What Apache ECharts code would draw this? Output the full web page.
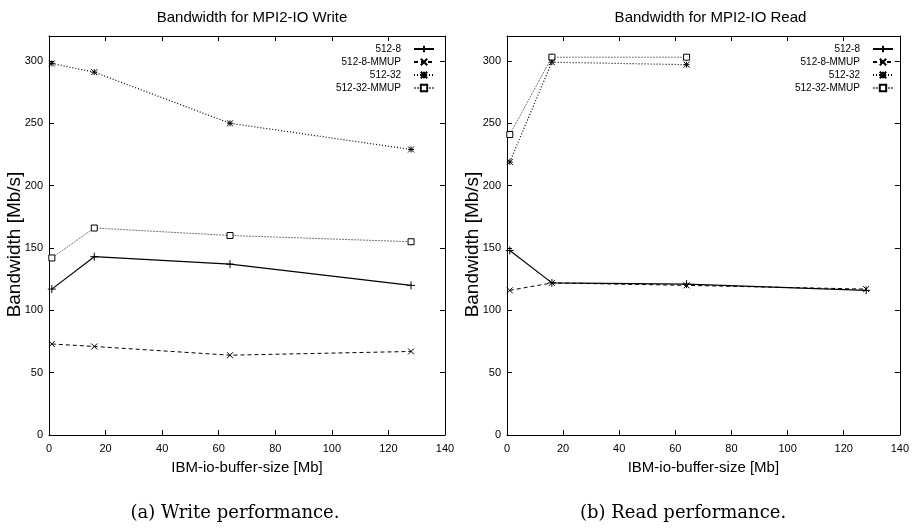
<!DOCTYPE html>
<html>
<head>
<meta charset="utf-8">
<script src="https://cdn.jsdelivr.net/npm/echarts@6/dist/echarts.min.js"></script>
<style>html,body{margin:0;padding:0;background:#fff}#c{width:912px;height:529px}</style>
</head>
<body>
<div id="c"></div>
<script>
// ---- data ----
var seriesNames = ['512-8', '512-8-MMUP', '512-32', '512-32-MMUP'];
var bufferSizes = [1, 16, 64, 128];
var write_512_8 = [117, 143, 137, 120];
var write_512_8_MMUP = [73, 71, 64, 67];
var write_512_32 = [298, 291, 250, 229];
var write_512_32_MMUP = [142, 166, 160, 155];
var read_512_8 = [148, 122, 121, 116];
var read_512_8_MMUP = [116, 122, 120, 117];
var read_512_32 = [219, 299, 297];
var read_512_32_MMUP = [241, 303, 303];
var titles = ['Bandwidth for MPI2-IO Write', 'Bandwidth for MPI2-IO Read'];
var captions = ['(a) Write performance.', '(b) Read performance.'];
var xName = 'IBM-io-buffer-size [Mb]';
var yName = 'Bandwidth [Mb/s]';

// ---- styling ----
var NARROW = '"Liberation Sans Narrow", "Liberation Sans", Arial, sans-serif';
var SANS = '"Liberation Sans", Arial, sans-serif';
var styles = [
  {symbol: 'path://M0,5L10,5M5,0L5,10', size: 8, color: '#000', type: 'solid', width: 1.2, fill: '#000'},
  {symbol: 'path://M0,0L10,10M10,0L0,10', size: 6, color: '#000', type: [4, 3], width: 1, fill: '#000'},
  {symbol: 'path://M0,0L10,10M10,0L0,10M5,0L5,10M0,5L10,5', size: 6, color: '#000', type: [1, 2], width: 1.2, fill: '#000'},
  {symbol: 'rect', size: 6, color: '#777', type: [2, 1], width: 1, fill: '#fff', border: '#000'}
];

function pairs(xs, vals) { return vals.map(function (v, i) { return [xs[i], v]; }); }

var grids = [
  {left: 49, top: 36, width: 396, height: 399},
  {left: 507, top: 36, width: 397, height: 399}
];

var xAxes = [], yAxes = [];
grids.forEach(function (g, gi) {
  ['bottom', 'top'].forEach(function (pos) {
    xAxes.push({
      type: 'value', gridIndex: gi, position: pos, min: 0, max: 140, interval: 20,
      name: pos === 'bottom' ? xName : '', nameLocation: 'middle', nameGap: 25,
      nameTextStyle: {fontFamily: NARROW, fontSize: 15, color: '#000'},
      axisLine: {show: true, onZero: false, lineStyle: {color: '#000', width: 1}},
      axisTick: {show: true, inside: true, length: 5, lineStyle: {color: '#000'}},
      axisLabel: {show: pos === 'bottom', fontFamily: NARROW, fontSize: 11, color: '#000', margin: 8},
      splitLine: {show: false}
    });
  });
  ['left', 'right'].forEach(function (pos) {
    yAxes.push({
      type: 'value', gridIndex: gi, position: pos, min: 0, max: 320, interval: 50,
      name: pos === 'left' ? yName : '', nameLocation: 'middle', nameGap: 25, nameMoveOverlap: false,
      nameTextStyle: {fontFamily: SANS, fontSize: 19, color: '#000', padding: [0, 18, 0, 0]},
      axisLine: {show: true, onZero: false, lineStyle: {color: '#000', width: 1}},
      axisTick: {show: true, inside: true, length: 5, lineStyle: {color: '#000'}},
      axisLabel: {show: pos === 'left', showMaxLabel: false, fontFamily: NARROW, fontSize: 11, color: '#000', margin: 6},
      splitLine: {show: false}
    });
  });
});

var dataSets = [
  [pairs(bufferSizes, write_512_8), pairs(bufferSizes, write_512_8_MMUP), pairs(bufferSizes, write_512_32), pairs(bufferSizes, write_512_32_MMUP)],
  [pairs(bufferSizes, read_512_8), pairs(bufferSizes, read_512_8_MMUP), pairs(bufferSizes, read_512_32), pairs(bufferSizes, read_512_32_MMUP)]
];

var series = [];
dataSets.forEach(function (sets, gi) {
  sets.forEach(function (d, si) {
    var s = styles[si];
    series.push({
      type: 'line', name: seriesNames[si], xAxisIndex: gi * 2, yAxisIndex: gi * 2,
      data: d, symbol: s.symbol, symbolSize: s.size, showSymbol: true,
      lineStyle: {color: s.color, type: s.type, width: s.width},
      itemStyle: {color: s.fill, borderColor: s.border || '#000', borderWidth: 1},
      emphasis: {disabled: true}, z: 10 - si
    });
  });
});

var option = {
  animation: false,
  backgroundColor: '#fff',
  title: titles.map(function (t, i) {
    return {text: t, left: grids[i].left + grids[i].width / 2, textAlign: 'center', top: 5,
      textStyle: {fontFamily: NARROW, fontSize: 15, fontWeight: 'normal', color: '#000'}};
  }),
  legend: [0, 1].map(function (gi) {
    return {
      data: seriesNames, orient: 'vertical', align: 'right',
      right: 912 - (grids[gi].left + grids[gi].width - 10), top: 44, padding: 0,
      itemWidth: 20, itemHeight: 8, itemGap: 3,
      textStyle: {fontFamily: NARROW, fontSize: 10, color: '#000', padding: [0, 8, 0, 0]},
      selectedMode: false
    };
  }),
  grid: grids,
  xAxis: xAxes,
  yAxis: yAxes,
  series: series,
  graphic: captions.map(function (c, i) {
    return {type: 'text', x: [235, 683][i], y: 513,
      style: {text: c, font: '18px "DejaVu Serif", "Liberation Serif", serif', fill: '#000',
        textAlign: 'center', textVerticalAlign: 'middle'}};
  })
};
var chart = echarts.init(document.getElementById('c'), null, {renderer: 'canvas'});
chart.setOption(option);
</script>
</body>
</html>
